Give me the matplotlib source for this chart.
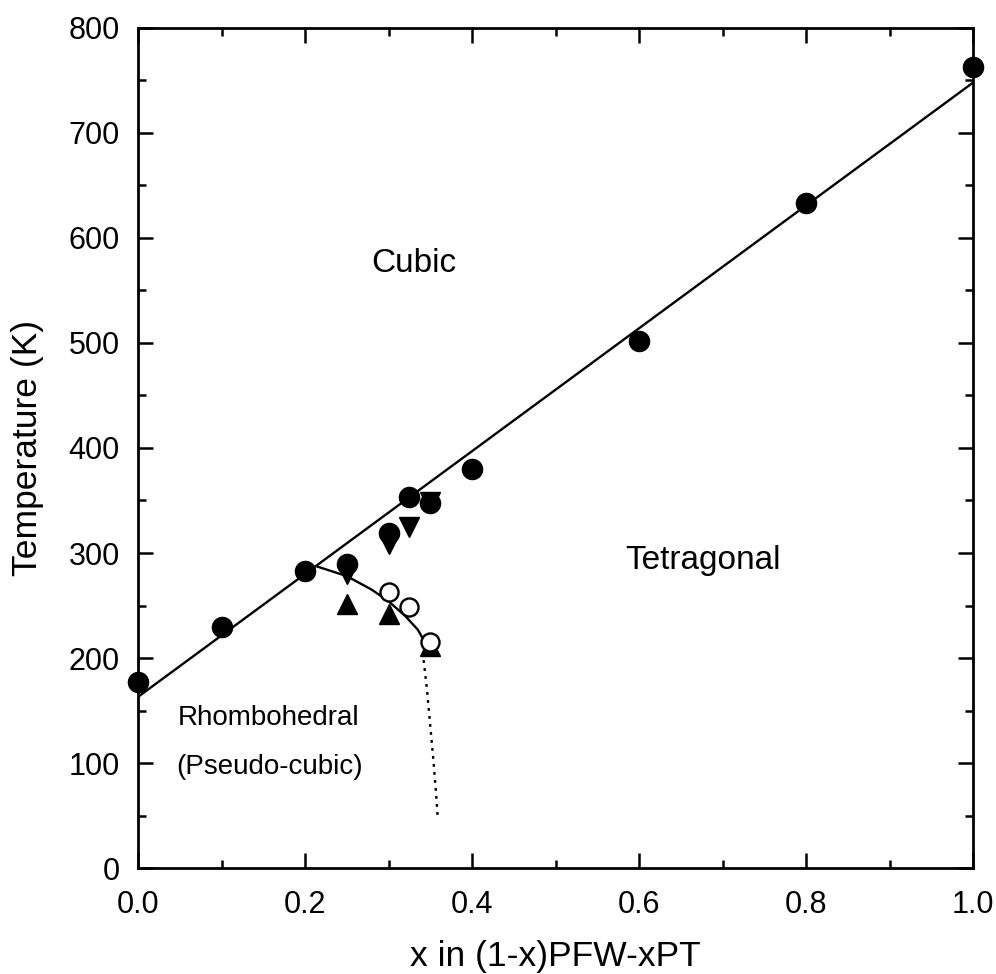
import matplotlib
matplotlib.use("Agg")
import matplotlib.pyplot as plt
from matplotlib.ticker import MultipleLocator

plt.rcParams['font.family'] = ['Liberation Sans', 'DejaVu Sans']

# Tc line (filled circles)
x_cubic = [0.0, 0.1, 0.2, 0.25, 0.3, 0.325, 0.35, 0.4, 0.6, 0.8, 1.0]
t_cubic = [177, 230, 283, 290, 319, 353, 348, 380, 502, 633, 763]

# down triangles
x_down = [0.25, 0.3, 0.325, 0.35]
t_down = [280, 309, 325, 349]

# up triangles
x_up = [0.25, 0.3, 0.35]
t_up = [251, 242, 211]

# open circles
x_open = [0.3, 0.325, 0.35]
t_open = [263, 249, 215]

# fitted phase boundaries
x_fit = [0.0, 1.0]
t_fit = [163, 748]

x_arc = [0.215, 0.25, 0.28, 0.30, 0.32, 0.335, 0.345]
t_arc = [287, 278, 265, 254, 240, 227, 213]

x_dot = [0.342, 0.346, 0.350, 0.354, 0.357, 0.359]
t_dot = [198, 170, 135, 100, 70, 46]

fig = plt.figure(figsize=(9.96, 9.74), dpi=100)
ax = fig.add_axes([0.1386, 0.1088, 0.977 - 0.1386, 0.9713 - 0.1088])

ax.plot(x_fit, t_fit, color='black', lw=1.7, zorder=2)
ax.plot(x_arc, t_arc, color='black', lw=1.7, zorder=2)
ax.plot(x_dot, t_dot, color='black', lw=1.7, ls=(0, (1.2, 2.2)), zorder=2)

ax.plot(x_cubic, t_cubic, 'o', color='black', ms=14.5, zorder=3, clip_on=False)
ax.plot(x_down, t_down, 'v', color='black', ms=15, zorder=3)
ax.plot(x_up, t_up, '^', color='black', ms=15, zorder=3)
ax.plot(x_open, t_open, 'o', mfc='white', mec='black', mew=1.7, ms=13, zorder=4)

ax.text(0.33, 576, 'Cubic', fontsize=24, ha='center', va='center')
ax.text(0.677, 293, 'Tetragonal', fontsize=24, ha='center', va='center')
ax.text(0.156, 143, 'Rhombohedral', fontsize=20, ha='center', va='center')
ax.text(0.157, 96, '(Pseudo-cubic)', fontsize=20, ha='center', va='center')

ax.set_xlim(0, 1.0)
ax.set_ylim(0, 800)
ax.xaxis.set_major_locator(MultipleLocator(0.2))
ax.xaxis.set_minor_locator(MultipleLocator(0.1))
ax.yaxis.set_major_locator(MultipleLocator(100))
ax.yaxis.set_minor_locator(MultipleLocator(50))
ax.xaxis.set_major_formatter(plt.FuncFormatter(lambda v, p: '%.1f' % v))

ax.tick_params(which='both', direction='in', top=True, right=True, width=1.8, labelsize=22)
ax.tick_params(which='major', length=11)
ax.tick_params(which='minor', length=6)
ax.tick_params(axis='x', which='major', pad=16)
ax.tick_params(axis='y', which='major', pad=13)
for s in ax.spines.values():
    s.set_linewidth(2.0)

ax.set_xlabel('x in (1-x)PFW-xPT', fontsize=25.5)
ax.set_ylabel('Temperature (K)', fontsize=25.5)
ax.xaxis.set_label_coords(0.5, -0.086)
ax.yaxis.set_label_coords(-0.1126, 0.5)

fig.savefig('out.png', dpi=100)
